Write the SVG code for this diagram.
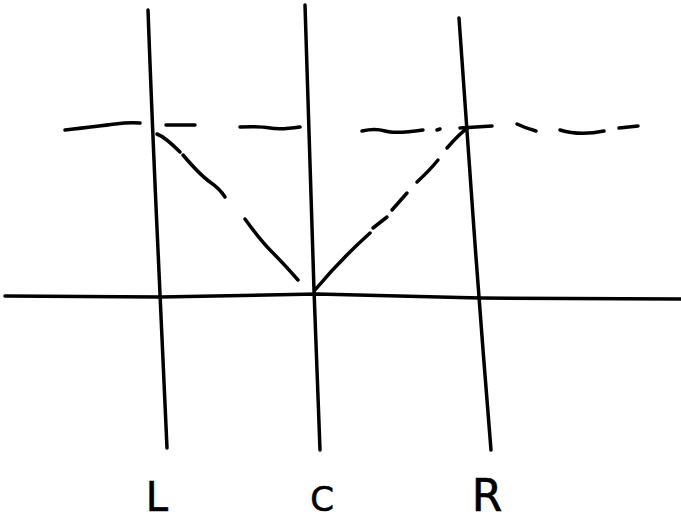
<svg xmlns="http://www.w3.org/2000/svg" width="681" height="523" viewBox="0 0 681 523">
<style>
.s{fill:none;stroke:#000;stroke-width:3.5;stroke-linecap:round;stroke-linejoin:round}
.t{font-family:"DejaVu Sans","Liberation Sans",sans-serif;fill:#000;stroke:#000;stroke-width:0.6;text-anchor:middle}
</style>
<rect width="681" height="523" fill="#fff"/>
<g id="verticals">
<path class="s" d="M148,10 Q152,120 158,250 T167,448"/>
<path class="s" d="M305,5 Q309,150 314,290 T320,450"/>
<path class="s" d="M459,18 Q466,120 474,230 T491,450"/>
</g>
<g id="baseline">
<path class="s" d="M5,296 L160,297 L317,294 L480,298 L681,299"/>
</g>
<g id="dashed-top">
<path class="s" d="M65,130 Q100,126 115,124 T140,123"/>
<path class="s" d="M166,125 L195,125"/>
<path class="s" d="M240,127 Q260,126 270,128 T300,127"/>
<path class="s" d="M362,131 Q375,128 385,131 T423,130"/>
<path class="s" d="M437,130 L440,129"/>
<path class="s" d="M460,128 L492,126"/>
<path class="s" d="M517,124 Q525,128 536,131"/>
<path class="s" d="M560,130 Q580,136 604,131"/>
<path class="s" d="M619,128 L638,126"/>
</g>
<g id="connectors">
<path class="s" d="M157,134 Q165,137 180,152"/>
<path class="s" d="M183,155 Q200,175 210,182 T225,197"/>
<path class="s" d="M245,219 Q260,240 272,252 T298,280"/>
<path class="s" d="M315,290 Q340,260 370,233"/>
<path class="s" d="M373,228 L387,217"/>
<path class="s" d="M392,210 L407,193"/>
<path class="s" d="M417,182 Q430,170 438,160"/>
<path class="s" d="M447,148 Q460,133 468,128"/>
</g>
<g id="label-L"><text class="t" x="157" y="511" font-size="40">L</text></g>
<g id="label-C"><text class="t" x="322" y="511" font-size="34">C</text></g>
<g id="label-R"><text class="t" x="487" y="511" font-size="44">R</text></g>
</svg>
